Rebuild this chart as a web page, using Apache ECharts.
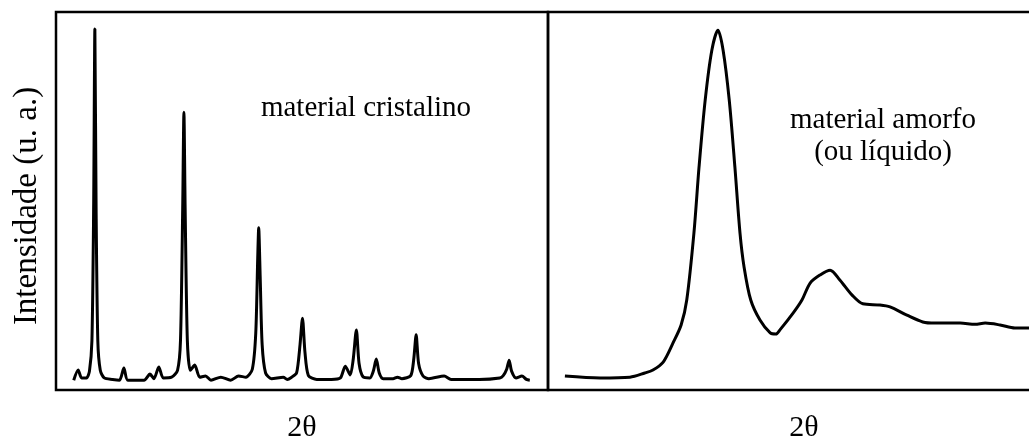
<!DOCTYPE html>
<html>
<head>
<meta charset="utf-8">
<script src="https://cdn.jsdelivr.net/npm/echarts@6/dist/echarts.min.js"></script>
<style>
html,body{margin:0;padding:0;background:#fff;}
#c{width:1029px;height:441px;}
</style>
</head>
<body>
<div id="c"></div>
<script>
// Crystalline pattern: [2θ (arbitrary units), intensity (a.u.)]
const crystallineX = [3.6,4.5,5.2,6.2,6.8,7.3,7.65,7.9,8.15,8.5,9.0,9.8,11.5,12.9,13.8,14.6,17.9,19.1,19.9,20.9,21.8,23.5,24.7,25.3,25.75,26.0,26.25,26.7,27.3,28.2,29.2,30.4,31.5,33.5,35.5,37.1,38.6,39.9,40.6,41.0,41.2,41.5,41.9,42.6,43.8,46.2,47.0,47.9,48.9,49.6,50.1,50.6,51.3,53,56,57.8,58.8,59.8,60.4,61.05,61.6,62.4,63.8,64.5,65.1,65.7,66.5,68.5,69.4,70.3,72.1,72.7,73.2,73.7,74.6,75.8,78.9,80.3,86,90.2,90.9,91.6,92.1,92.6,93.5,94.7,95.6,96.3];
const crystallineY = [2.6,5.3,3.2,3.2,5.0,13,48,95.5,48,13,5.2,3.2,2.8,2.6,5.8,2.6,2.6,4.2,3.0,6.1,3.2,3.4,5.2,13,48,73.5,48,13,5.2,6.6,3.4,3.7,2.6,3.4,2.6,3.7,3.4,5.5,15,35,42.9,30,12,4.5,3.0,3.4,2.8,3.4,4.5,12,19.0,10,3.8,2.8,2.8,3.2,6.3,4,8,15.9,7,3.5,3.2,5,8.2,4.5,3.0,3.0,3.4,3.0,3.8,8,14.6,7,3.7,3.0,3.7,2.8,2.8,3.2,3.8,5.5,7.9,5,3.2,3.7,2.8,2.6];

// Amorphous (liquid) pattern
const amorphousX = [3.3,10.2,16.0,18.9,20.5,22.5,24.4,26.0,27.1,28.5,29.5,30.7,32.0,33.2,34.2,35.4,36.5,37.5,38.3,39.6,41.4,43.4,44.5,45.3,47.9,49.6,51.2,53.1,55.1,57.0,59.4,61.5,64.8,66.8,70.1,73.2,75.6,80.5,83.4,85.4,88.3,91.2,93.9,96.5];
const amorphousY = [3.7,3.2,3.4,4.5,5.3,7.4,12.4,17.2,23.8,41.5,59.0,76.7,89.9,95.2,89.9,76.7,59.0,41.5,32.5,23.8,18.5,15.1,14.8,15.9,20.4,23.8,28.3,30.4,31.7,29.1,25.1,22.8,22.5,22.0,19.8,18.0,17.7,17.7,17.4,17.7,17.2,16.4,16.4,16.3];

const labels = {
  yTitle: 'Intensidade (u. a.)',
  xTitle: '2θ',
  crystal: 'material cristalino',
  amorph: 'material amorfo\n(ou líquido)'
};

const zip = (xs, ys) => xs.map((x, i) => [x, ys[i]]);
const serif = "'Liberation Serif', 'DejaVu Serif', serif";

const chart = echarts.init(document.getElementById('c'), null, {renderer: 'canvas'});
const axisCommon = {
  type: 'value', min: 0, max: 100,
  axisLine: {show: false}, axisTick: {show: false},
  axisLabel: {show: false}, splitLine: {show: false}
};
const xName = {fontFamily: serif, fontSize: 30, color: '#000', verticalAlign: 'top'};
chart.setOption({
  animation: false,
  backgroundColor: '#fff',
  grid: [
    {left: 56, top: 12, width: 492, height: 378, show: true, borderColor: '#000', borderWidth: 2.5,
      backgroundColor: 'transparent', outerBoundsMode: 'none', containLabel: false},
    {left: 548, top: 12, width: 512, height: 378, show: true, borderColor: '#000', borderWidth: 2.5,
      backgroundColor: 'transparent', outerBoundsMode: 'none', containLabel: false}
  ],
  xAxis: [
    Object.assign({}, axisCommon, {gridIndex: 0, name: labels.xTitle, nameLocation: 'middle', nameGap: 23, nameTextStyle: xName}),
    Object.assign({}, axisCommon, {gridIndex: 1, name: labels.xTitle, nameLocation: 'middle', nameGap: 23, nameTextStyle: xName})
  ],
  yAxis: [
    Object.assign({}, axisCommon, {gridIndex: 0}),
    Object.assign({}, axisCommon, {gridIndex: 1})
  ],
  graphic: [
    {type: 'text', x: 27, y: 206, rotation: Math.PI / 2,
      style: {text: labels.yTitle, fontFamily: serif, fontSize: 33, fill: '#000', align: 'center', verticalAlign: 'middle'}},
    {type: 'text', x: 366, y: 108,
      style: {text: labels.crystal, fontFamily: serif, fontSize: 29, fill: '#000', align: 'center', verticalAlign: 'middle'}},
    {type: 'text', x: 883, y: 136,
      style: {text: labels.amorph, fontFamily: serif, fontSize: 29, lineHeight: 32, fill: '#000', align: 'center', verticalAlign: 'middle'}}
  ],
  series: [
    {type: 'line', xAxisIndex: 0, yAxisIndex: 0, data: zip(crystallineX, crystallineY),
      showSymbol: false, smooth: 0.25, lineStyle: {color: '#000', width: 3}},
    {type: 'line', xAxisIndex: 1, yAxisIndex: 1, data: zip(amorphousX, amorphousY),
      showSymbol: false, smooth: 0.3, lineStyle: {color: '#000', width: 3}}
  ]
});
</script>
</body>
</html>
